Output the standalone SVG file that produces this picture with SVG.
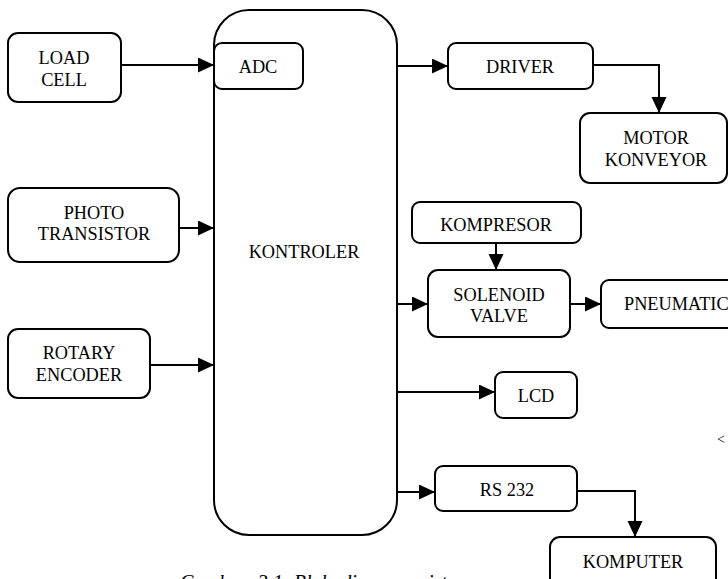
<svg xmlns="http://www.w3.org/2000/svg" width="728" height="579" viewBox="0 0 728 579">
<defs>
<marker id="arr" markerUnits="userSpaceOnUse" markerWidth="16" markerHeight="16" refX="16" refY="7.5" orient="auto">
<path d="M0,0 L16,7.5 L0,15 Z" fill="#000"/>
</marker>
<style>
rect{fill:#fff;stroke:#000;stroke-width:2}
text{font-size:18.3px;fill:#000;text-anchor:middle}
.c{fill:none;stroke:#000;stroke-width:2;marker-end:url(#arr)}
</style>
</defs>
<rect width="728" height="579" style="fill:#fff;stroke:none"/>
<g font-family="'Liberation Serif', serif">
<text x="180" y="589" style="font-style:italic;font-size:20px;text-anchor:start;word-spacing:6px">Gambar 3.1 Blok diagram sistem</text>
<text x="717" y="444" style="font-size:14px;text-anchor:start">&lt;</text>
<g id="kontroler">
<rect x="214" y="10" width="183" height="525" rx="35"/>
<text x="304" y="258">KONTROLER</text>
</g>
<g id="adc">
<rect x="214" y="43" width="89" height="46" rx="8"/>
<text x="258" y="73">ADC</text>
</g>
<g id="loadcell">
<rect x="8" y="33" width="113" height="69" rx="10"/>
<text x="64" y="64">LOAD</text>
<text x="64" y="86">CELL</text>
</g>
<g id="photo">
<rect x="8" y="188" width="171" height="74" rx="12"/>
<text x="94" y="219">PHOTO</text>
<text x="94" y="240">TRANSISTOR</text>
</g>
<g id="rotary">
<rect x="8" y="329" width="142" height="69" rx="10"/>
<text x="79" y="359">ROTARY</text>
<text x="79" y="381">ENCODER</text>
</g>
<g id="driver">
<rect x="448" y="43" width="145" height="46" rx="8"/>
<text x="520" y="73">DRIVER</text>
</g>
<g id="motor">
<rect x="580" y="113" width="147" height="70" rx="10"/>
<text x="656" y="144">MOTOR</text>
<text x="656" y="166">KONVEYOR</text>
</g>
<g id="kompresor">
<rect x="412" y="202" width="169" height="41" rx="8"/>
<text x="496" y="231">KOMPRESOR</text>
</g>
<g id="solenoid">
<rect x="428" y="270" width="142" height="67" rx="10"/>
<text x="499" y="301">SOLENOID</text>
<text x="499" y="322">VALVE</text>
</g>
<g id="pneumatic">
<rect x="601" y="280" width="150" height="48" rx="8"/>
<text x="624" y="310" style="text-anchor:start">PNEUMATIC</text>
</g>
<g id="lcd">
<rect x="495" y="372" width="82" height="46" rx="8"/>
<text x="536" y="402">LCD</text>
</g>
<g id="rs232">
<rect x="435" y="466" width="142" height="45" rx="8"/>
<text x="507" y="496">RS 232</text>
</g>
<g id="komputer">
<rect x="550" y="537" width="166" height="60" rx="10"/>
<text x="633" y="568">KOMPUTER</text>
</g>
</g>
<g id="connectors">
<path class="c" d="M121,65 H214"/>
<path class="c" d="M179,228 H214"/>
<path class="c" d="M150,365 H214"/>
<path class="c" d="M397,66 H448"/>
<path class="c" d="M593,65 H659 V113"/>
<path class="c" d="M496,243 V270"/>
<path class="c" d="M397,304 H428"/>
<path class="c" d="M570,304 H601"/>
<path class="c" d="M397,392 H495"/>
<path class="c" d="M397,492 H435"/>
<path class="c" d="M577,491 H635 V537"/>
</g>
</svg>
